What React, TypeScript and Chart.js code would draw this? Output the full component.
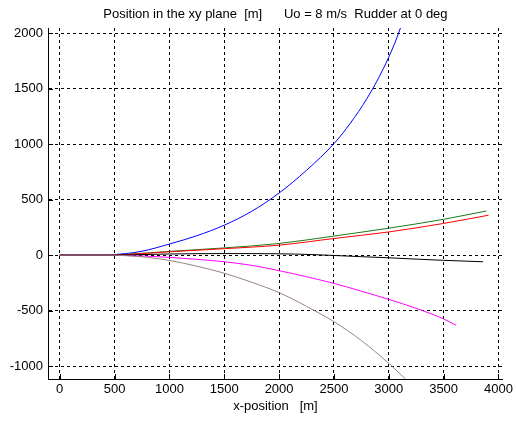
import React, { useEffect, useRef } from 'react';
import { Chart, registerables } from 'chart.js';

Chart.register(...registerables);

const titleText = 'Position in the xy plane  [m]      Uo = 8 m/s  Rudder at 0 deg';
const xLabel = 'x-position   [m]';

const xTicks = [0, 500, 1000, 1500, 2000, 2500, 3000, 3500, 4000];
const yTicks = [-1000, -500, 0, 500, 1000, 1500, 2000];

const blueX = [0, 420, 500, 600, 750, 1000, 1250, 1500, 1750, 2000, 2250, 2500, 2650, 2800, 2950, 3050, 3100, 3150];
const blueY = [0, 0, 5, 14, 35, 100, 175, 270, 395, 560, 765, 1005, 1190, 1410, 1680, 1900, 2030, 2170];

const greenX = [0, 450, 600, 1000, 1500, 2000, 2500, 3000, 3500, 3890];
const greenY = [0, 0, 6, 34, 65, 105, 172, 243, 323, 398];

const redX = [0, 450, 600, 1000, 1500, 2000, 2500, 3000, 3500, 3910];
const redY = [0, 0, 5, 30, 58, 90, 150, 209, 286, 360];

const blackX = [0, 500, 750, 1000, 1500, 2000, 2300, 2500, 2750, 3000, 3250, 3500, 3860];
const blackY = [0, 0, 5, 10, 14, 12, 5, -3, -14, -24, -36, -47, -60];

const magentaX = [0, 450, 600, 800, 1000, 1250, 1500, 1750, 2000, 2250, 2500, 2750, 3000, 3250, 3500, 3615];
const magentaY = [0, 0, -3, -10, -20, -38, -60, -92, -140, -195, -255, -325, -399, -480, -575, -633];

const brownX = [0, 450, 600, 800, 1000, 1250, 1500, 1750, 2000, 2250, 2500, 2750, 3000, 3150];
const brownY = [0, 0, -5, -20, -48, -100, -163, -245, -338, -462, -600, -770, -976, -1115];

const FONT = "'Liberation Sans', Arial, sans-serif";

function pts(xs: number[], ys: number[]) {
  return xs.map((x, i) => ({ x, y: ys[i] }));
}

export default function App() {
  const ref = useRef<HTMLCanvasElement | null>(null);

  useEffect(() => {
    if (!ref.current) return;

    const innerTicks = {
      id: 'innerTicks',
      afterDatasetsDraw(chart: any) {
        const { ctx, chartArea: a, scales } = chart;
        const x = scales.x;
        const y = scales.y;
        ctx.save();
        ctx.strokeStyle = '#000';
        ctx.lineWidth = 1;
        ctx.setLineDash([]);
        ctx.beginPath();
        xTicks.forEach((v) => {
          const px = Math.round(x.getPixelForValue(v)) + 0.5;
          ctx.moveTo(px, a.bottom);
          ctx.lineTo(px, a.bottom - 5);
        });
        yTicks.forEach((v) => {
          const py = Math.round(y.getPixelForValue(v)) + 0.5;
          ctx.moveTo(a.left, py);
          ctx.lineTo(a.left + 5, py);
        });
        ctx.stroke();
        ctx.fillStyle = '#000';
        ctx.font = `13px ${FONT}`;
        ctx.textAlign = 'center';
        ctx.textBaseline = 'middle';
        ctx.fillText(titleText, (a.left + a.right) / 2, 14);
        ctx.restore();
      },
    };

    const mk = (xs: number[], ys: number[], color: string) => ({
      data: pts(xs, ys),
      borderColor: color,
      backgroundColor: color,
      borderWidth: 1,
      pointRadius: 0,
      showLine: true,
      fill: false,
      cubicInterpolationMode: 'monotone',
    });

    const chart = new Chart(ref.current, {
      type: 'scatter',
      data: {
        datasets: [
          mk(brownX, brownY, '#9a8282'),
          mk(blackX, blackY, '#000000'),
          mk(magentaX, magentaY, '#ff00ff'),
          mk(redX, redY, '#ff0000'),
          mk(greenX, greenY, '#1a7a1a'),
          mk(blueX, blueY, '#0000ff'),
        ],
      },
      options: {
        animation: false,
        responsive: false,
        layout: { padding: { top: 28, right: 10, left: 0, bottom: 0 } },
        plugins: {
          legend: { display: false },
          tooltip: { enabled: false },
          title: { display: false },
        },
        scales: {
          x: {
            type: 'linear',
            min: -107,
            max: 4040,
            afterBuildTicks: (s: any) => {
              s.ticks = xTicks.map((v) => ({ value: v }));
            },
            afterFit: (s: any) => {
              s.height = 46;
            },
            ticks: {
              color: '#000',
              font: { family: FONT, size: 13 },
              padding: 3,
              maxRotation: 0,
              autoSkip: false,
              callback: (v: any) => String(v),
            },
            grid: { color: '#000', lineWidth: 1, drawTicks: false },
            border: { display: true, color: '#000', width: 1, dash: [3, 3] },
            title: {
              display: true,
              text: xLabel,
              color: '#000',
              font: { family: FONT, size: 13 },
              padding: { top: 0, bottom: 11 },
            },
          },
          y: {
            type: 'linear',
            min: -1117,
            max: 2048,
            afterBuildTicks: (s: any) => {
              s.ticks = yTicks.map((v) => ({ value: v }));
            },
            afterFit: (s: any) => {
              s.width = 48;
            },
            ticks: {
              color: '#000',
              font: { family: FONT, size: 13 },
              padding: 5,
              autoSkip: false,
              callback: (v: any) => String(v),
            },
            grid: { color: '#000', lineWidth: 1, drawTicks: false },
            border: { display: true, color: '#000', width: 1, dash: [3, 3] },
          },
        },
      },
      plugins: [innerTicks],
    } as any);

    return () => chart.destroy();
  }, []);

  return (
    <div style={{ position: 'fixed', left: 0, top: 0, width: 516, height: 425, background: '#fff' }}>
      <canvas ref={ref} width={516} height={425} style={{ width: 516, height: 425, display: 'block' }} />
    </div>
  );
}
